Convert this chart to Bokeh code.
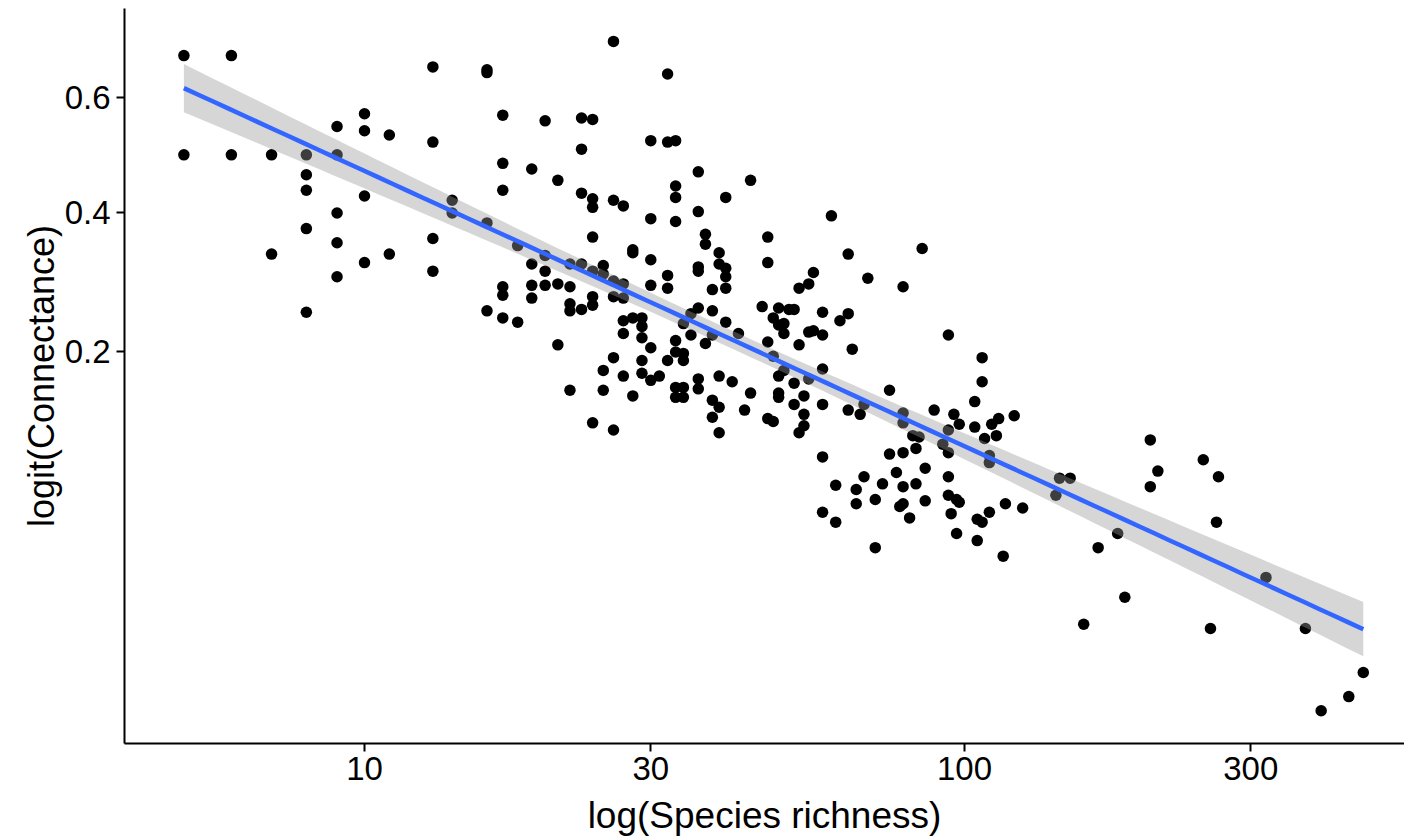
import numpy as np
from bokeh.plotting import figure
from bokeh.models import Range1d, FixedTicker, CustomJSTickFormatter, ColumnDataSource
from bokeh.embed import file_html
from bokeh.resources import INLINE

# ---- data (species richness, logit of connectance) ----
species_richness = [
    5, 6, 5, 6, 7, 8, 8, 8, 8, 8, 7, 9, 9, 9, 9, 9, 10, 10, 10, 10, 11, 11,
    13, 16, 16, 17, 20, 13, 17, 17, 19, 21, 14, 14, 16, 18, 20, 22, 13, 13, 19, 20, 17, 17, 19, 19, 20, 21, 22, 16, 17, 18,
    26, 32, 23, 24, 23, 30, 32, 33, 23, 24, 24, 26, 27, 30, 33, 33, 33,
    24, 28, 28, 30, 32, 32, 30, 23, 24, 25, 25, 26, 27, 26, 27, 22, 22, 23, 24, 24, 21, 27, 28, 29, 29, 27, 29, 30, 33, 26,
    25, 27, 29, 32, 29, 30, 31, 33, 22, 25, 28, 33, 33, 24, 26,
    36, 44, 40, 36, 37, 37, 47, 39, 36, 36, 39, 40, 40, 47, 38, 40, 53, 55,
    36, 38, 35, 34, 40, 42, 38, 35, 37, 34, 34, 46, 49, 51, 52, 48, 50, 49, 50, 47, 53, 55, 48, 50, 49, 52, 55, 39, 41, 36,
    36, 34, 34, 44, 49, 49, 54, 38, 39, 52, 54, 38, 43, 47, 48, 54, 53, 39,
    60, 85, 64, 69, 79, 56, 58, 64, 62, 56, 58, 65, 58,
    58, 64, 67, 68, 75, 79, 79, 82, 84, 83, 58, 75, 79, 86, 77, 68, 61, 66, 73, 79, 83, 66, 71, 79, 78, 86, 58, 61, 81, 71,
    94, 107, 107, 104, 89, 96, 98, 121, 114, 111, 113, 104, 108, 94, 92, 94, 110, 110, 94, 94, 97, 98, 95, 117, 125, 110,
    105, 107, 97, 105, 116,
    204, 250, 210, 265, 204, 144, 150, 142, 263, 180, 167, 318, 185, 158, 257, 370, 462, 437, 393,
]

logit_connectance = [
    0.70, 0.70, 0.00, 0.00, 0.00, 0.00, -0.14, -0.25, -0.52, -1.11, -0.70, 0.20, 0.00, -0.41, -0.62, -0.86, 0.29, 0.17, -0.29, -0.76, 0.14, -0.70,
    0.62, 0.60, 0.58, 0.28, 0.24, 0.09, -0.06, -0.25, -0.10, -0.18, -0.32, -0.41, -0.48, -0.64, -0.71, -0.77, -0.59, -0.82, -0.77, -0.82,
    -0.93, -0.99, -0.92, -1.01, -0.92, -0.91, -0.93, -1.10, -1.15, -1.18,
    0.80, 0.57, 0.26, 0.25, 0.04, 0.10, 0.09, 0.10, -0.27, -0.31, -0.37, -0.32, -0.36, -0.45, -0.22, -0.30, -0.47,
    -0.58, -0.67, -0.69, -0.74, -0.85, -0.94, -0.92, -0.77, -0.82, -0.78, -0.84, -0.89, -0.91, -1.00, -1.01, -1.05, -1.10, -1.09, -1.00, -1.06,
    -1.34, -1.17, -1.15, -1.15, -1.21, -1.26, -1.29, -1.36, -1.31, -1.43, -1.52, -1.56, -1.45, -1.45, -1.54, -1.59, -1.56, -1.39, -1.66, -1.66,
    -1.70, -1.64, -1.71, -1.89, -1.94,
    -0.12, -0.18, -0.30, -0.40, -0.56, -0.63, -0.58, -0.69, -0.79, -0.82, -0.77, -0.80, -0.86, -0.76, -0.95, -0.94, -0.94, -0.91,
    -1.08, -1.10, -1.12, -1.19, -1.18, -1.26, -1.27, -1.27, -1.33, -1.40, -1.45, -1.07, -1.08, -1.09, -1.09, -1.15, -1.19, -1.20, -1.26, -1.32,
    -1.34, -1.25, -1.42, -1.52, -1.56, -1.61, -1.58, -1.56, -1.60, -1.58, -1.65, -1.64, -1.71, -1.68, -1.68, -1.71, -1.70, -1.73, -1.78, -1.76,
    -1.83, -1.85, -1.80, -1.86, -1.88, -1.91, -1.96, -1.96,
    -0.43, -0.66, -0.70, -0.87, -0.93, -0.83, -1.11, -1.12, -1.17, -1.24, -1.27, -1.37, -1.51,
    -1.76, -1.80, -1.83, -1.76, -1.66, -1.82, -1.89, -1.98, -1.99, -2.07, -2.13, -2.11, -2.10, -2.21, -2.24, -2.27, -2.33, -2.36, -2.32, -2.34,
    -2.32, -2.46, -2.43, -2.46, -2.48, -2.44, -2.52, -2.59, -2.56, -2.77,
    -1.27, -1.43, -1.60, -1.74, -1.80, -1.83, -1.90, -1.84, -1.86, -1.90, -1.98, -1.92, -2.00, -1.94, -2.04, -2.10, -2.12, -2.17, -2.27, -2.40,
    -2.43, -2.45, -2.53, -2.46, -2.49, -2.52, -2.57, -2.59, -2.67, -2.72, -2.83,
    -2.01, -2.15, -2.23, -2.27, -2.34, -2.28, -2.28, -2.40, -2.59, -2.67, -2.77, -2.98, -3.12, -3.31, -3.34, -3.34, -3.65, -3.82, -3.92,
]

x_tick_values = [10, 30, 100, 300]
y_tick_connectance = [0.2, 0.4, 0.6]
x_title = "log(Species richness)"
y_title = "logit(Connectance)"

# ---- linear model (logit C ~ log10 S) with 95% confidence band ----
S = np.array(species_richness, dtype=float)
L = np.array(logit_connectance, dtype=float)
lx = np.log10(S)
n = len(S)
slope, intercept = np.polyfit(lx, L, 1)
resid = L - (intercept + slope * lx)
sigma = np.sqrt(np.sum(resid ** 2) / (n - 2))
xbar = lx.mean()
sxx = np.sum((lx - xbar) ** 2)
t_crit = 1.969
gx = np.linspace(lx.min(), lx.max(), 80)
fit = intercept + slope * gx
se = sigma * np.sqrt(1.0 / n + (gx - xbar) ** 2 / sxx)

pts = ColumnDataSource(dict(x=S, y=L))
band = ColumnDataSource(dict(x=10 ** gx, lo=fit - t_crit * se, hi=fit + t_crit * se, fit=fit))

p = figure(
    width=1404, height=838,
    x_axis_type="log",
    x_range=Range1d(10 ** 0.6, 10 ** 2.7333),
    y_range=Range1d(-4.151, 1.032),
    output_backend="svg", toolbar_location=None,
    min_border_left=124, min_border_right=0, min_border_top=8, min_border_bottom=95,
    background_fill_color="white", border_fill_color="white",
)
p.outline_line_color = None
p.xgrid.visible = False
p.ygrid.visible = False

p.scatter("x", "y", source=pts, size=11.5, fill_color="black", line_color=None)
p.varea(x="x", y1="lo", y2="hi", source=band, fill_color="#999999", fill_alpha=0.4)
p.line("x", "fit", source=band, line_color="#3366FF", line_width=4.5)

p.xaxis.ticker = FixedTicker(ticks=x_tick_values, minor_ticks=[])
p.xaxis.formatter = CustomJSTickFormatter(code="return String(Math.round(tick));")
yt = [float(np.log(c / (1 - c))) for c in y_tick_connectance]
p.yaxis.ticker = FixedTicker(ticks=yt, minor_ticks=[])
p.yaxis.formatter = CustomJSTickFormatter(code="return (1/(1+Math.exp(-tick))).toFixed(1);")

p.xaxis.axis_label = x_title
p.yaxis.axis_label = y_title

for ax in (p.xaxis[0], p.yaxis[0]):
    ax.axis_line_color = "black"
    ax.axis_line_width = 2
    ax.major_tick_line_color = "black"
    ax.major_tick_line_width = 2
    ax.major_tick_out = 8
    ax.major_tick_in = 0
    ax.minor_tick_out = 0
    ax.minor_tick_in = 0
    ax.major_label_text_font = "Liberation Sans"
    ax.major_label_text_font_size = "33px"
    ax.major_label_text_color = "black"
    ax.axis_label_text_font = "Liberation Sans"
    ax.axis_label_text_font_style = "normal"
    ax.axis_label_text_color = "black"

p.xaxis[0].major_label_standoff = 5
p.xaxis[0].axis_label_standoff = 12
p.xaxis[0].axis_label_text_font_size = "37px"
p.yaxis[0].major_label_standoff = 6
p.yaxis[0].axis_label_standoff = 0
p.yaxis[0].axis_label_text_font_size = "36px"

open("out.html", "w").write(file_html(p, INLINE))
